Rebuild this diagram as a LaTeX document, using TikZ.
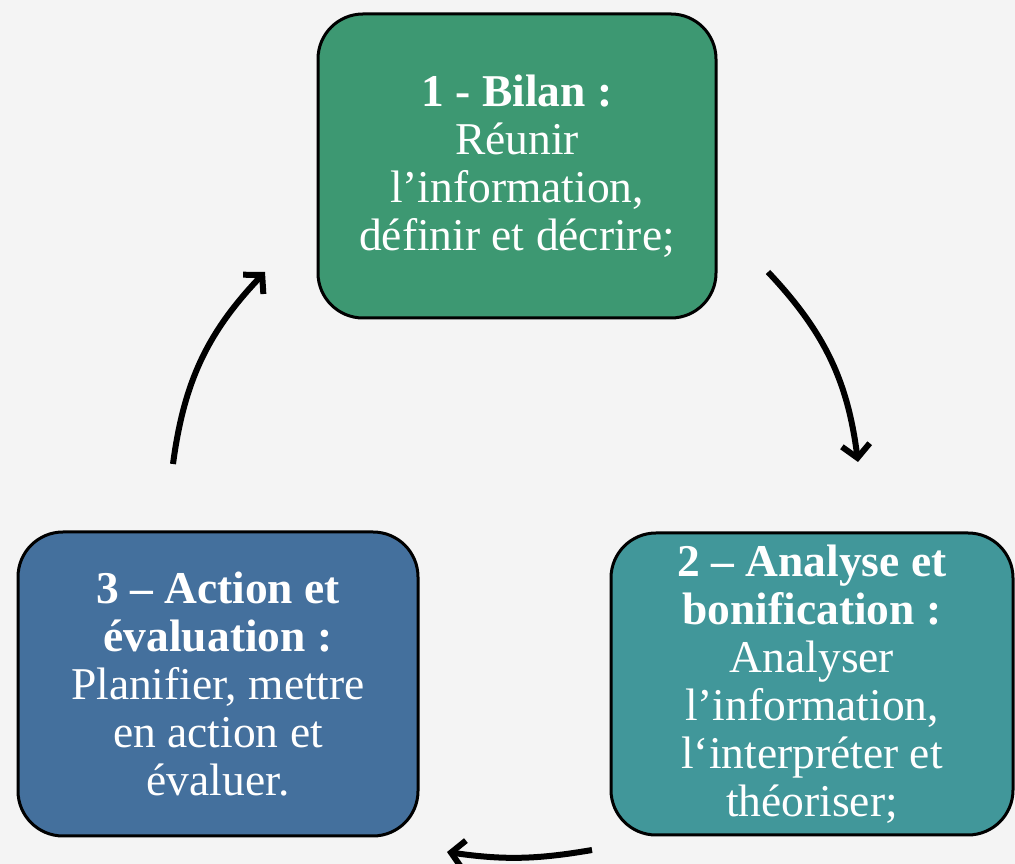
\documentclass[tikz,border=0pt]{standalone}
\usepackage{fontspec}
\setmainfont{Liberation Serif}
\usetikzlibrary{arrows.meta}
\definecolor{bgc}{HTML}{F4F4F4}
\definecolor{cgreen}{HTML}{3D9872}
\definecolor{cteal}{HTML}{41979A}
\definecolor{cblue}{HTML}{44709D}
\begin{document}
\begin{tikzpicture}[x=1pt,y=1pt,
  stepbox/.style={draw=black,line width=3pt,rounded corners=45pt,text=white,
    align=center,inner sep=0pt,
    font=\fontsize{45.5}{48}\selectfont},
  cyc/.style={line width=6pt,-{Straight Barb[length=13pt,width=28pt]}}]
\fill[bgc] (0,0) rectangle (1015,864);
\useasboundingbox (0,0) rectangle (1015,864);
\node[stepbox,fill=cgreen,minimum width=398pt,minimum height=304pt] (bilan) at (517,698)
  {\textbf{1 - Bilan :}\\Réunir\\l’information,\\définir et décrire;};
\node[stepbox,fill=cteal,minimum width=402pt,minimum height=302pt] (analyse) at (812,180)
  {\textbf{2 – Analyse et}\\\textbf{bonification :}\\Analyser\\l’information,\\l‘interpréter et\\théoriser;};
\node[stepbox,fill=cblue,minimum width=400pt,minimum height=304pt] (action) at (218,180)
  {\textbf{3 – Action et}\\\textbf{évaluation :}\\Planifier, mettre\\en action et\\évaluer.};
\coordinate (a1s) at (768,592);
\coordinate (a1e) at (858,402);
\coordinate (a2s) at (592,14);
\coordinate (a2e) at (447,12);
\coordinate (a3s) at (173,400);
\coordinate (a3e) at (265,592);
\draw[cyc] (a1s) to[bend left=18] (a1e);
\draw[cyc] (a2s) to[bend left=9] (a2e);
\draw[cyc] (a3s) to[bend left=18] (a3e);
\end{tikzpicture}
\end{document}
